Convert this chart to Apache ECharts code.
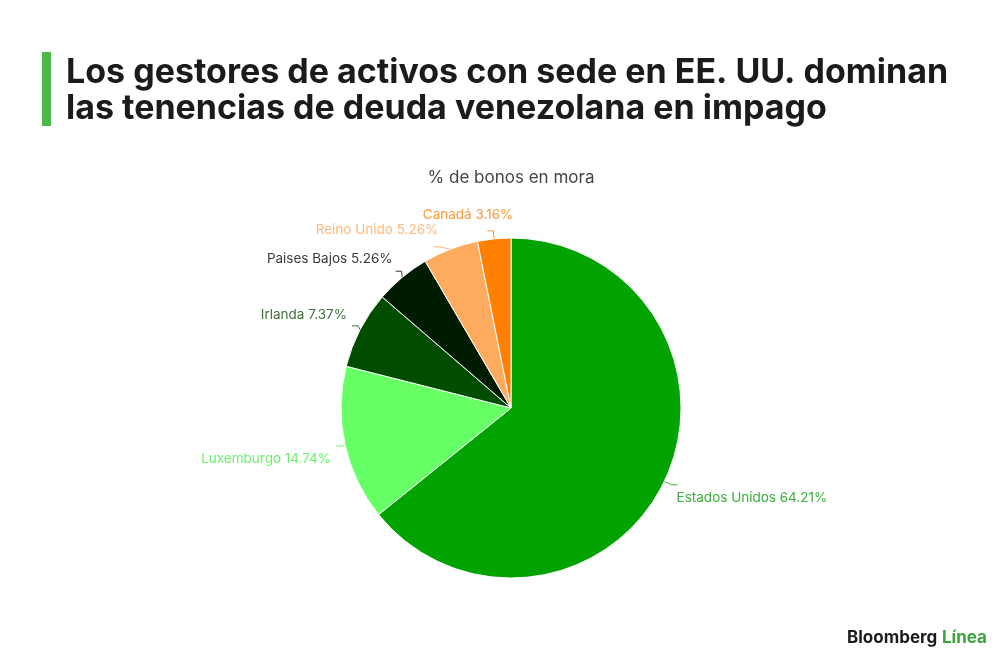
<!DOCTYPE html>
<html><head><meta charset="utf-8">
<script src="https://cdn.jsdelivr.net/npm/echarts@6/dist/echarts.min.js"></script>
<style>html,body{margin:0;padding:0;background:#fff}#c{width:1000px;height:660px}</style>
</head><body><div id="c"></div>
<script>
const categories = ['Estados Unidos','Luxemburgo','Irlanda','Paises Bajos','Reino Unido','Canadá'];
const values = [64.21,14.74,7.37,5.26,5.26,3.16];

// styling (not data)
const colors = ['#00a300','#66ff66','#004d00','#001c00','#ffab5f','#ff7f00'];
const labelColors = ['#3aae3a','#6ef06e','#3f6f3f','#3a3a3a','#ffb878','#f59a3c'];
const labelDx = [-6, 0, 0, 2, 10, 31];
const labelDy = [13, 13, -11, -12, -17, -16];

const chart = echarts.init(document.getElementById('c'));
chart.setOption({
  backgroundColor:'#fff',
  animation:false,
  title:[{
    text:'Los gestores de activos con sede en EE. UU. dominan\nlas tenencias de deuda venezolana en impago',
    left:61, top:50,
    textStyle:{fontFamily:'Inter',fontWeight:'bold',fontSize:34,lineHeight:36,color:'#1b1b1b'}
  }],
  graphic:[
    {type:'rect',shape:{x:42,y:52,width:9,height:74},style:{fill:'#4cb848'}},
    {type:'text',x:511,y:178,style:{text:'% de bonos en mora',fontFamily:'Inter',fontSize:17,fill:'#444',align:'center',verticalAlign:'middle'}},
    {type:'text',left:847,top:629,style:{text:'Bloomberg',fontFamily:'Inter',fontWeight:'bold',fontSize:17,fill:'#1b1b1b'}},
    {type:'text',left:942,top:629,style:{text:'Línea',fontFamily:'Inter',fontWeight:'bold',fontSize:17,fill:'#3aa53a'}}
  ],
  series:[{
    type:'pie',
    center:[511,408],
    radius:170,
    startAngle:90,
    clockwise:true,
    itemStyle:{borderColor:'#fff',borderWidth:1},
    label:{formatter:'{b} {c}%',fontFamily:'Inter',fontSize:13.5},
    labelLine:{length:8,length2:6},
    labelLayout:function(p){ return {dx: labelDx[p.dataIndex], dy: labelDy[p.dataIndex]}; },
    data:categories.map((n,i)=>({name:n,value:values[i],
      itemStyle:{color:colors[i]},
      label:{color:labelColors[i]},
      labelLine:{lineStyle:{color:labelColors[i]}}}))
  }]
});
</script></body></html>
